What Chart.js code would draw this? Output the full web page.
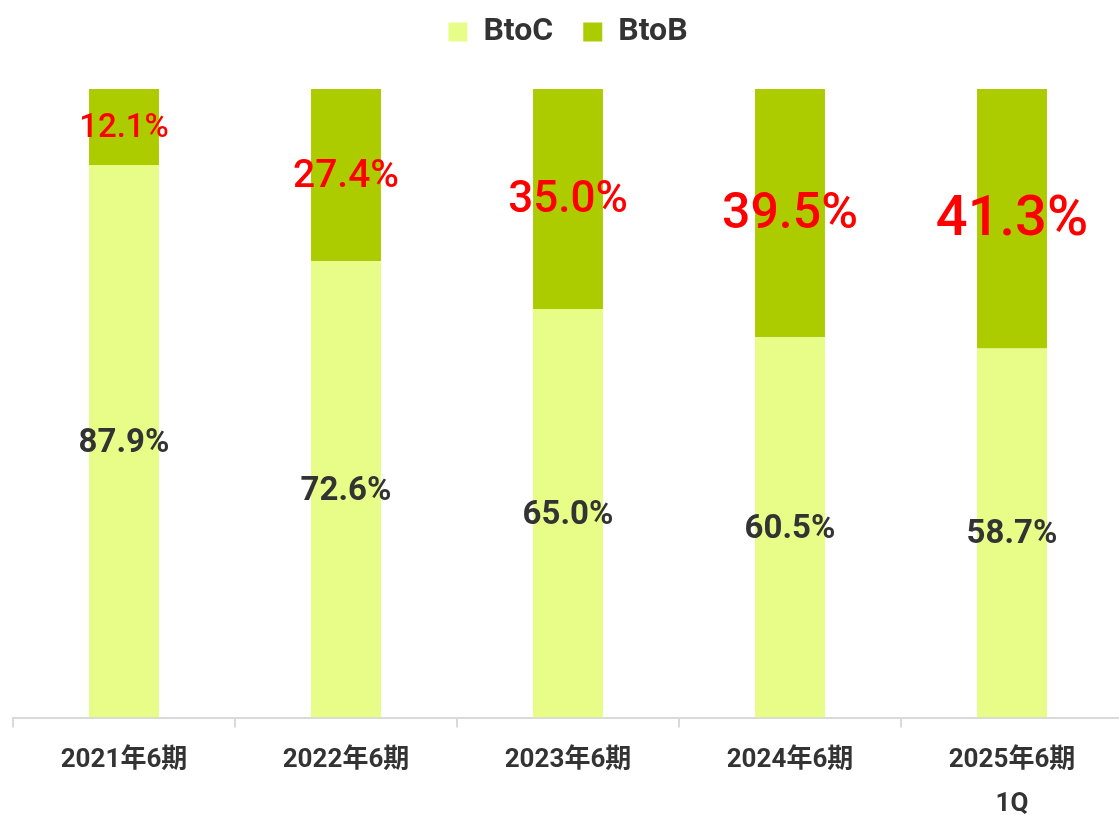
<!DOCTYPE html>
<html>
<head>
<meta charset="utf-8">
<script src="https://cdn.jsdelivr.net/npm/chart.js@4.4.1/dist/chart.umd.min.js"></script>
<style>
    html, body { margin: 0; padding: 0; background: #fff; overflow: hidden; }
    #wrap { width: 1123px; height: 815px; }
</style>
</head>
<body>
<div id="wrap"><canvas id="shareChart"></canvas></div>
<script>
const periods = [['2021年6期'], ['2022年6期'], ['2023年6期'], ['2024年6期'], ['2025年6期', '1Q']];
const btocShare = [87.9, 72.6, 65.0, 60.5, 58.7];
const btobShare = [12.1, 27.4, 35.0, 39.5, 41.3];

// red labels grow bar by bar in the original
const btobLabelSizes = [33, 39, 44, 50, 56];

const FONT = 'Roboto, "Noto Sans CJK JP", sans-serif';

const segmentLabels = {
    id: 'segmentLabels',
    afterDatasetsDraw(chart) {
        const ctx = chart.ctx;
        ctx.save();
        ctx.textAlign = 'center';
        ctx.textBaseline = 'middle';
        chart.data.datasets.forEach((ds, di) => {
            const meta = chart.getDatasetMeta(di);
            meta.data.forEach((bar, i) => {
                const cy = (bar.y + bar.base) / 2;
                if (di === 0) {
                    ctx.fillStyle = '#333333';
                    ctx.font = 'bold 33px ' + FONT;
                } else {
                    ctx.fillStyle = '#ff0000';
                    ctx.font = '500 ' + btobLabelSizes[i] + 'px ' + FONT;
                }
                ctx.fillText(ds.data[i].toFixed(1) + '%', bar.x, cy + 2);
            });
        });
        ctx.restore();
    }
};

// extra room between legend and bars
const legendGap = {
    id: 'legendGap',
    beforeInit(chart) {
        const fit = chart.legend.fit;
        chart.legend.fit = function () {
            fit.call(this);
            this.height += 31;
        };
    }
};

new Chart(document.getElementById('shareChart'), {
    type: 'bar',
    data: {
        labels: periods,
        datasets: [
            { label: 'BtoC', data: btocShare, backgroundColor: '#e8fc88' },
            { label: 'BtoB', data: btobShare, backgroundColor: '#adcc00' }
        ]
    },
    options: {
        responsive: true,
        maintainAspectRatio: false,
        animation: false,
        layout: { padding: { left: 13, right: 0, top: -14, bottom: -23 } },
        datasets: {
            bar: { categoryPercentage: 1, barPercentage: 0.315 }
        },
        plugins: {
            legend: {
                position: 'top',
                labels: {
                    boxWidth: 19,
                    boxHeight: 19,
                    padding: 30,
                    color: '#333333',
                    font: { family: FONT, size: 32, weight: 'bold' }
                }
            },
            tooltip: { enabled: false }
        },
        scales: {
            x: {
                stacked: true,
                grid: {
                    display: true,
                    drawOnChartArea: false,
                    drawTicks: true,
                    tickLength: 10,
                    color: '#d9d9d9',
                    lineWidth: 2
                },
                border: { display: true, color: '#d9d9d9', width: 2 },
                ticks: {
                    color: '#333333',
                    padding: 11,
                    maxRotation: 0,
                    font: { family: FONT, size: 26, weight: 'bold', lineHeight: 1.7 }
                }
            },
            y: {
                stacked: true,
                display: false,
                min: 0,
                max: 100
            }
        }
    },
    plugins: [segmentLabels, legendGap]
});
</script>
</body>
</html>
